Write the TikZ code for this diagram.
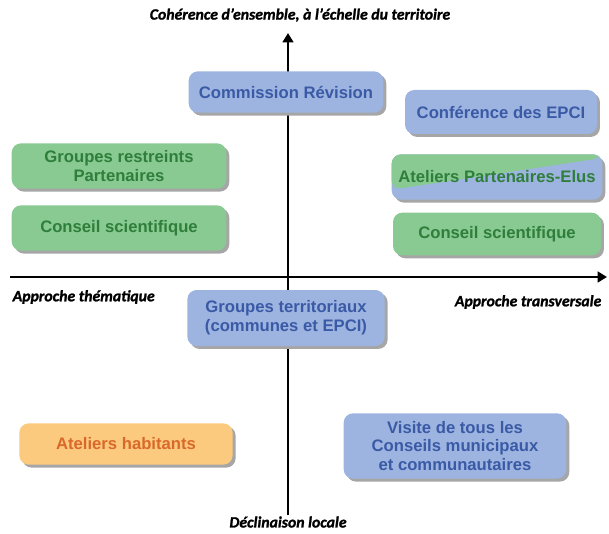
\documentclass[tikz,border=0pt]{standalone}
\usepackage{fontspec}
\setmainfont{Liberation Sans}
\newfontfamily\axisfont{Carlito}[BoldItalicFeatures={FakeBold=1.3}]
\usepackage{xcolor}
\usepackage{tikz}
\usetikzlibrary{arrows.meta,shadows,calc}

\definecolor{bleufond}{HTML}{9DB4E0}
\definecolor{bleutexte}{HTML}{3A5AA6}
\definecolor{vertfond}{HTML}{88CA92}
\definecolor{verttexte}{HTML}{2F7E3B}
\definecolor{orfond}{HTML}{FCCA7E}
\definecolor{ortexte}{HTML}{D9692A}

\begin{document}
\begin{tikzpicture}[x=0.75pt, y=-0.75pt,
  inst/.style={rectangle, rounded corners=7pt, align=center,
               font=\bfseries\fontsize{12.5}{14}\selectfont,
               drop shadow={shadow xshift=2.2pt, shadow yshift=-2.2pt,
                            fill=black!35, opacity=1}},
  instbleu/.style={inst, fill=bleufond, text=bleutexte},
  instvert/.style={inst, fill=vertfond, text=verttexte},
  insthab/.style={inst, fill=orfond, text=ortexte},
  axe/.style={line width=1.9pt, -{Triangle[length=7pt, width=8pt]}},
  axelabel/.style={font=\axisfont\fontsize{11.8}{13}\selectfont\bfseries\itshape}
]
\useasboundingbox (0,0) rectangle (609,534);
% axes
\coordinate (ouest) at (10,277);
\coordinate (est) at (607,277);
\coordinate (sud) at (288,515);
\coordinate (nord) at (288,33);
\draw[axe] (ouest) -- (est);
\draw[axe] (sud) -- (nord);
\node[axelabel] (haut) at (300,15) {Cohérence d’ensemble, à l’échelle du territoire};
\node[axelabel, anchor=west] (gauche) at (8,297) {Approche thématique};
\node[axelabel, anchor=east] (droite) at (606,302) {Approche transversale};
\node[axelabel] (bas) at (288,522) {Déclinaison locale};
% instances
\node[instbleu, minimum width=146pt, minimum height=31pt] (commission) at (286,92) {Commission Révision};
\node[instbleu, minimum width=144pt, minimum height=33pt] (conference) at (501,112) {Conférence des EPCI};
\node[instvert, minimum width=161pt, minimum height=34pt] (restreints) at (119,166) {Groupes restreints\\Partenaires};
\node[instvert, minimum width=161pt, minimum height=34pt] (conseilg) at (119,228) {Conseil scientifique};
\node[instbleu, text=verttexte, minimum width=158pt, minimum height=34pt,
  path picture={\fill[vertfond] (path picture bounding box.north west)
    -- (path picture bounding box.north east)
    -- ($(path picture bounding box.north east)!0.08!(path picture bounding box.south east)$)
    -- ($(path picture bounding box.north west)!0.78!(path picture bounding box.south west)$)
    -- cycle;}] (ateliers) at (497,177) {Ateliers Partenaires-Elus};
\node[instvert, minimum width=156pt, minimum height=32pt] (conseild) at (497,234) {Conseil scientifique};
\node[instbleu, minimum width=148pt, minimum height=42pt] (territoriaux) at (286,318) {Groupes territoriaux\\(communes et EPCI)};
\node[insthab, minimum width=160pt, minimum height=31pt] (habitants) at (126,444) {Ateliers habitants};
\node[instbleu, minimum width=167pt, minimum height=49pt] (visite) at (455,446) {Visite de tous les\\Conseils municipaux\\et communautaires};
\end{tikzpicture}
\end{document}
